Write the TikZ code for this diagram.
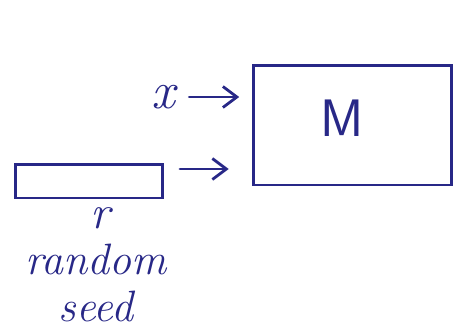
\documentclass[tikz,border=0pt]{standalone}
\usepackage{xcolor}
\usepackage{tikz}
\usetikzlibrary{arrows.meta, positioning, calc}

\definecolor{inkblue}{RGB}{40,40,135}

\begin{document}
\begin{tikzpicture}[
    x=0.02cm, y=-0.02cm,
    box/.style  = {draw=inkblue, line width=1.7pt, inner sep=0pt},
    arr/.style  = {-{Straight Barb[length=2.8mm,width=4.2mm]}, draw=inkblue,
                   line width=1.6pt, line cap=round},
    ink/.style  = {text=inkblue, inner sep=0pt}
  ]
  \useasboundingbox (0,0) rectangle (459,332);

  % ----------------------------------------------------------------
  % Model box M and the seed tape r
  % ----------------------------------------------------------------
  \node[box, minimum width=3.98cm, minimum height=2.4cm] (model) at (352.5,125) {};
  \node[ink, font=\fontsize{30}{34}\selectfont\sffamily] (mlbl) at (342,118) {M};

  \node[box, minimum width=2.96cm, minimum height=0.68cm] (seed) at (89,181) {};

  % ----------------------------------------------------------------
  % Inputs: x on top, r below
  % ----------------------------------------------------------------
  \node[ink, font=\fontsize{30}{34}\selectfont\itshape] (xin) at (163,97) {x};
  \coordinate (rout) at (180,169);

  \draw[arr, shorten <=8pt, shorten >=7pt] (xin.east) -- (xin.east -| model.west);
  \draw[arr, shorten >=13pt] (rout) -- (rout -| model.west);

  % ----------------------------------------------------------------
  % Seed label under the tape
  % ----------------------------------------------------------------
  \node[ink, font=\fontsize{27}{30}\selectfont\itshape] (rlbl) at (100,218) {r};
  \node[ink, font=\fontsize{25}{27}\selectfont\itshape, align=center]
        (seedlbl) at (96,283) {random\\seed};

\end{tikzpicture}
\end{document}
